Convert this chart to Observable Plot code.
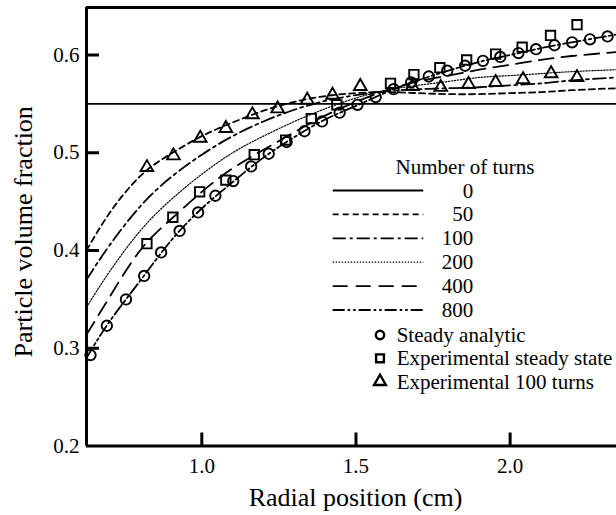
<!DOCTYPE html>
<html><head><meta charset="utf-8">
<script src="https://cdn.jsdelivr.net/npm/d3@7"></script>
<script src="https://cdn.jsdelivr.net/npm/@observablehq/plot@0.6"></script>
<style>
body{margin:0;background:#fff;}
#chart{position:relative;width:616px;height:515px;overflow:hidden;}
</style></head><body><div id="chart"></div>
<script>
// ---- data ----
const xDomain = [0.626, 2.345];
const yDomain = [0.2, 0.6486];
const xTicks = [1.0, 1.5, 2.0];
const yTicks = [0.2, 0.3, 0.4, 0.5, 0.6];

const rGrid   = [0.626,0.7,0.8,0.9,1.0,1.1,1.2,1.3,1.4,1.5,1.6,1.7,1.8,1.9,2.0,2.1,2.2,2.345];
const turns0   = [0.55,0.55,0.55,0.55,0.55,0.55,0.55,0.55,0.55,0.55,0.55,0.55,0.55,0.55,0.55,0.55,0.55,0.55];
const turns50  = [0.400,0.438,0.476,0.499,0.517,0.531,0.543,0.552,0.558,0.561,0.562,0.561,0.560,0.560,0.561,0.562,0.564,0.566];
const turns100 = [0.370,0.405,0.445,0.475,0.498,0.517,0.532,0.544,0.553,0.559,0.563,0.565,0.566,0.567,0.569,0.571,0.574,0.577];
const turns200 = [0.342,0.378,0.420,0.452,0.478,0.500,0.517,0.532,0.545,0.556,0.564,0.569,0.573,0.577,0.579,0.581,0.583,0.585];
const turns400 = [0.314,0.352,0.400,0.432,0.460,0.484,0.503,0.521,0.538,0.552,0.564,0.573,0.579,0.585,0.590,0.595,0.599,0.603];
const turns800 = [0.290,0.327,0.369,0.410,0.443,0.470,0.495,0.516,0.534,0.548,0.562,0.574,0.584,0.593,0.600,0.607,0.613,0.621];

const analyticR = [0.639,0.692,0.754,0.813,0.868,0.928,0.988,1.044,1.102,1.160,1.217,1.275,1.333,1.390,1.447,1.505,1.564,1.622,1.679,1.736,1.796,1.854,1.912,1.968,2.027,2.084,2.144,2.201,2.259,2.316];
const analyticV = [0.293,0.323,0.350,0.374,0.398,0.420,0.439,0.456,0.471,0.486,0.499,0.511,0.522,0.532,0.541,0.549,0.557,0.565,0.572,0.578,0.584,0.589,0.594,0.598,0.602,0.606,0.610,0.613,0.616,0.619];
const expSteadyR = [0.822,0.906,0.993,1.078,1.170,1.272,1.355,1.438,1.612,1.688,1.772,1.859,1.953,2.039,2.131,2.217];
const expSteadyV = [0.407,0.434,0.460,0.472,0.498,0.513,0.535,0.549,0.571,0.580,0.587,0.595,0.601,0.608,0.620,0.631];
const exp100R = [0.822,0.908,0.995,1.078,1.164,1.246,1.342,1.424,1.514,1.683,1.775,1.865,1.953,2.042,2.133,2.217];
const exp100V = [0.485,0.497,0.515,0.525,0.539,0.545,0.554,0.559,0.568,0.568,0.567,0.570,0.572,0.575,0.581,0.577];

const turnLabels = ["0","50","100","200","400","800"];
const pointLabels = ["Steady analytic","Experimental steady state","Experimental 100 turns"];
const legendTitle = "Number of turns";
const xLabel = "Radial position (cm)";
const yLabel = "Particle volume fraction";

// ---- styles ----
const seriesVals = [turns0, turns50, turns100, turns200, turns400, turns800];
const dashes = [null, "6,4", "13,4,3,4", "1.4,1.6", "15,8", "12,3,2.5,3,2.5,3"];
const widths = [1.8, 1.8, 1.8, 1.2, 1.8, 1.8];

const W = 616, H = 515, mL = 86, mT = 7, mB = 69.5, mR = 0;
const plotW = W - mL - mR, plotH = H - mT - mB;
const font = "Liberation Serif, Times New Roman, serif";

const lineMarks = seriesVals.map((vals, k) =>
  Plot.line(rGrid.map((r, i) => ({r, v: vals[i]})), {
    x: "r", y: "v", curve: "natural", stroke: "black",
    strokeWidth: widths[k], strokeDasharray: dashes[k], clip: true
  }));

const toRows = (R, V) => R.map((r, i) => ({r, v: V[i]}));

const plot = Plot.plot({
  width: W, height: H, marginLeft: mL, marginTop: mT, marginBottom: mB, marginRight: mR,
  style: {fontFamily: font, background: "white", color: "black", overflow: "visible"},
  x: {domain: xDomain},
  y: {domain: yDomain},
  marks: [
    ...lineMarks,
    Plot.dot(toRows(analyticR, analyticV), {x: "r", y: "v", symbol: "circle", r: 5.2, stroke: "black", strokeWidth: 1.9, fill: "none"}),
    Plot.dot(toRows(expSteadyR, expSteadyV), {x: "r", y: "v", symbol: "square", r: 5.3, stroke: "black", strokeWidth: 1.9, fill: "none"}),
    Plot.dot(toRows(exp100R, exp100V), {x: "r", y: "v", symbol: "triangle", r: 4.7, stroke: "black", strokeWidth: 1.9, fill: "none"}),
    Plot.axisX(xTicks, {tickSize: 0, tickPadding: 12, fontSize: 21, fontFamily: font, tickFormat: d3.format(".1f"), label: null}),
    Plot.axisY(yTicks, {tickSize: 0, tickPadding: 7, fontSize: 21, fontFamily: font, tickFormat: d3.format(".1f"), label: null}),
    Plot.tickX(xTicks, {x: d => d, insetTop: plotH - 13, strokeWidth: 3, stroke: "black"}),
    Plot.tickY(yTicks.slice(1), {y: d => d, insetRight: plotW - 13, strokeWidth: 3, stroke: "black"}),
    Plot.ruleX([xDomain[0]], {strokeWidth: 3, stroke: "black"}),
    Plot.ruleY(yDomain, {strokeWidth: 3, stroke: "black"}),
    Plot.text([xLabel], {frameAnchor: "bottom", dy: 51.5, dx: 4, fontSize: 26, fontFamily: font, lineAnchor: "middle", textAnchor: "middle", fill: "black"}),
    Plot.text([yLabel], {frameAnchor: "left", rotate: -90, dx: -63, dy: 5, fontSize: 26, fontFamily: font, lineAnchor: "middle", textAnchor: "middle", fill: "black"})
  ]
});
document.getElementById("chart").appendChild(plot);

// ---- legend (inside plot area) ----
const svg = d3.select(plot);
const g = svg.append("g").attr("font-family", font).attr("font-size", 21).attr("fill", "black");
g.append("text").attr("x", 465).attr("y", 166.7).attr("text-anchor", "middle")
  .attr("dominant-baseline", "central").text(legendTitle);
turnLabels.forEach((lab, i) => {
  const y = 190.5 + i * 23.9;
  g.append("line").attr("x1", 332.7).attr("x2", 423.3).attr("y1", y).attr("y2", y)
    .attr("stroke", "black").attr("stroke-width", widths[i])
    .attr("stroke-dasharray", dashes[i]);
  g.append("text").attr("x", 473.3).attr("y", y).attr("text-anchor", "end")
    .attr("dominant-baseline", "central").text(lab);
});
const symbols = [d3.symbolCircle, d3.symbolSquare, d3.symbolTriangle];
const sizes = [Math.PI * 4.2 * 4.2, Math.PI * 4.4 * 4.4, Math.PI * 4.4 * 4.4];
pointLabels.forEach((lab, j) => {
  const y = 335 + j * 23.3;
  g.append("path").attr("d", d3.symbol(symbols[j], sizes[j])())
    .attr("transform", `translate(380,${y})`).attr("fill", "none")
    .attr("stroke", "black").attr("stroke-width", 2.4);
  g.append("text").attr("x", 396.7).attr("y", y).attr("text-anchor", "start")
    .attr("dominant-baseline", "central").text(lab);
});
</script></body></html>
